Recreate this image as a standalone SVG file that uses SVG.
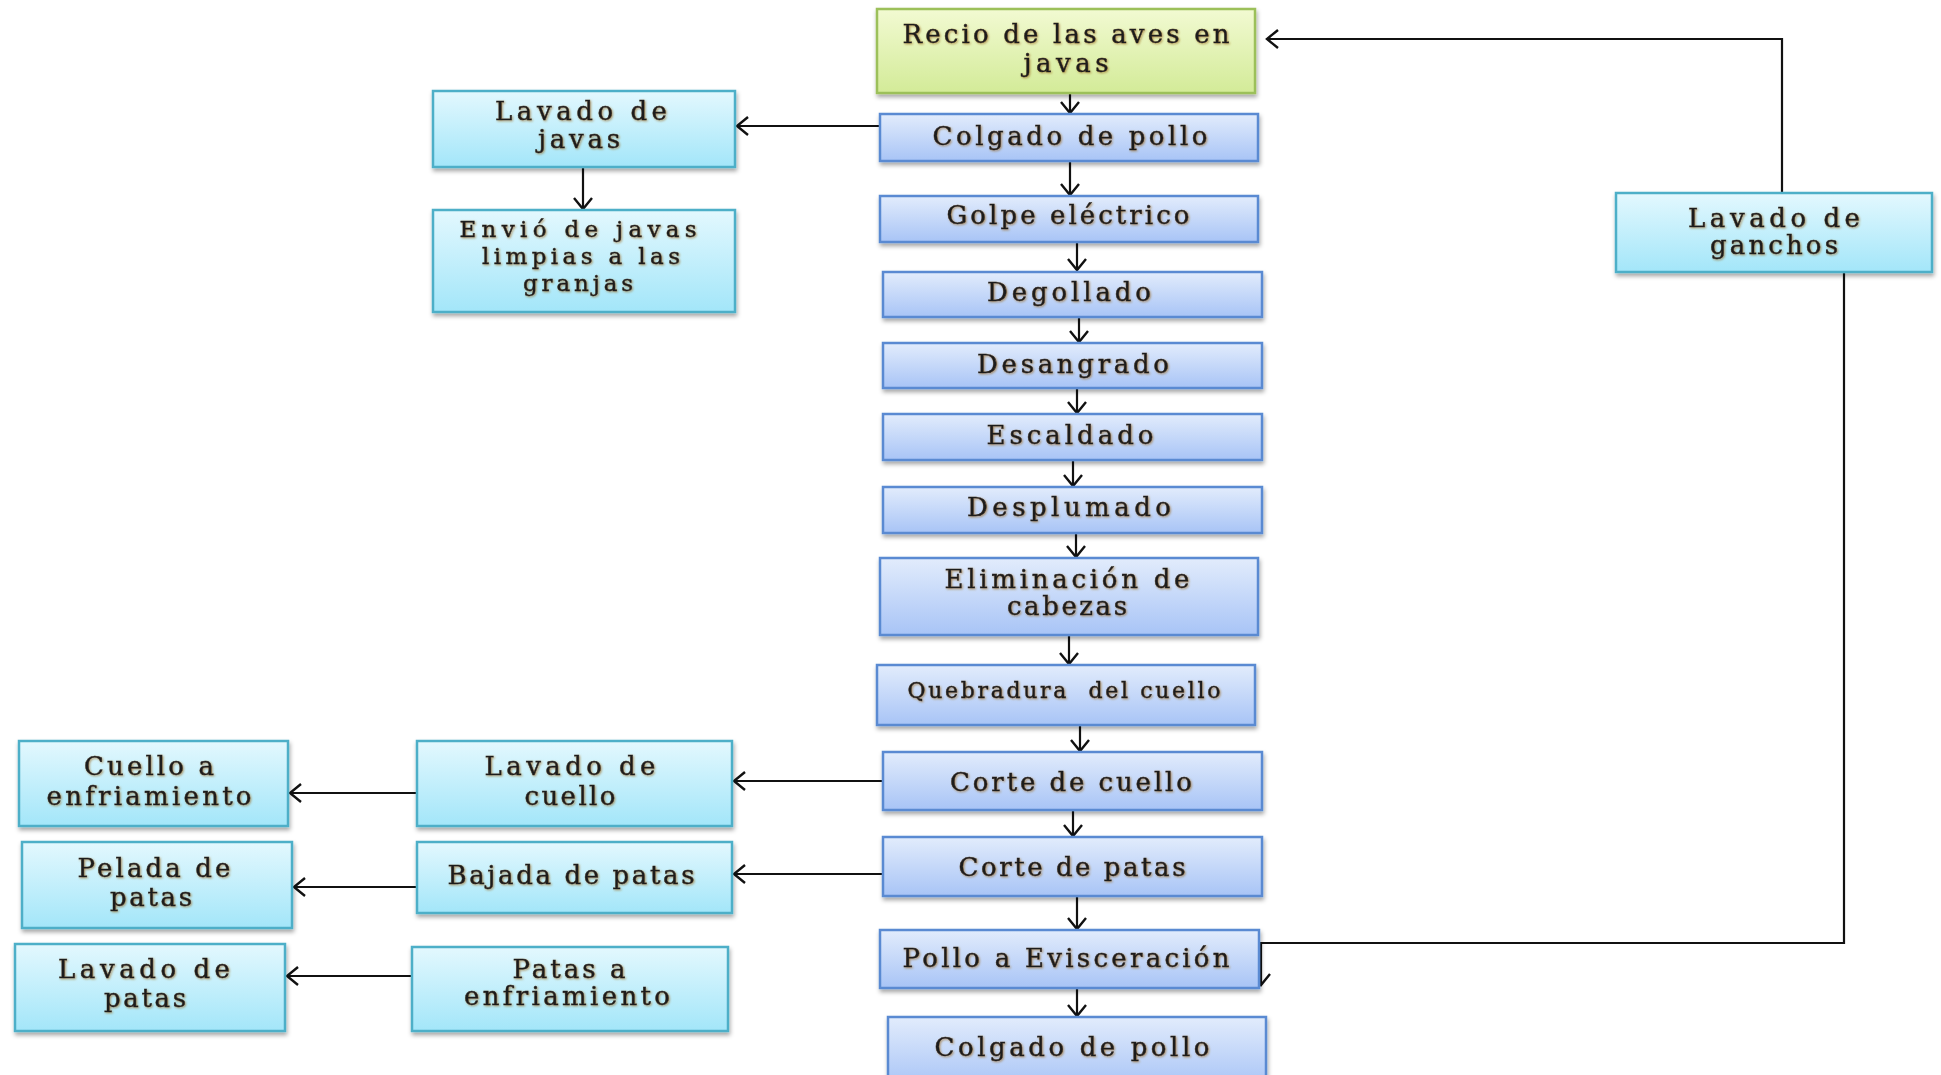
<svg xmlns="http://www.w3.org/2000/svg" width="1941" height="1075" viewBox="0 0 1941 1075">
<defs>
<linearGradient id="gBlue" x1="0" y1="0" x2="0" y2="1"><stop offset="0" stop-color="#e2ecfc"/><stop offset="1" stop-color="#a8c4f6"/></linearGradient>
<linearGradient id="gCyan" x1="0" y1="0" x2="0" y2="1"><stop offset="0" stop-color="#e3f8fe"/><stop offset="1" stop-color="#a3e6f9"/></linearGradient>
<linearGradient id="gGreen" x1="0" y1="0" x2="0" y2="1"><stop offset="0" stop-color="#f2fad2"/><stop offset="1" stop-color="#d3eb98"/></linearGradient>
<filter id="sh" x="-5%" y="-10%" width="110%" height="130%"><feDropShadow dx="1" dy="3" stdDeviation="2" flood-color="#000" flood-opacity="0.35"/></filter>
<filter id="tsh" x="-5%" y="-20%" width="110%" height="140%"><feDropShadow dx="1" dy="1" stdDeviation="0.8" flood-color="#9a6a20" flood-opacity="0.7"/></filter>
<marker id="ah" markerWidth="16" markerHeight="22" refX="12" refY="11" orient="auto" markerUnits="userSpaceOnUse"><path d="M1,2 L12,11 L1,20" fill="none" stroke="#111" stroke-width="2.4"/></marker>
</defs>
<style>
.b{fill:url(#gBlue);stroke:#5a8ad2;stroke-width:2.5;filter:url(#sh)}
.c{fill:url(#gCyan);stroke:#4eafc8;stroke-width:2.5;filter:url(#sh)}
.g{fill:url(#gGreen);stroke:#9cc05a;stroke-width:2.5;filter:url(#sh)}
text{font-family:"DejaVu Serif","Liberation Serif",serif;font-size:26px;fill:#1d1d1d;stroke:#1d1d1d;stroke-width:0.45;text-anchor:middle;filter:url(#tsh)}
.s{font-size:22px}
.m{font-size:23px}
.ln{fill:none;stroke:#111;stroke-width:2.2;marker-end:url(#ah)}
</style>
<rect width="1941" height="1075" fill="#fff"/>

<g id="connectors">
<path class="ln" d="M1070,93 V113"/>
<path class="ln" d="M1070,161 V195"/>
<path class="ln" d="M1077,242 V270"/>
<path class="ln" d="M1079,318 V342"/>
<path class="ln" d="M1077,389 V413"/>
<path class="ln" d="M1073,460 V486"/>
<path class="ln" d="M1076,533 V557"/>
<path class="ln" d="M1069,635 V664"/>
<path class="ln" d="M1080,725 V751"/>
<path class="ln" d="M1073,810 V836"/>
<path class="ln" d="M1077,896 V929"/>
<path class="ln" d="M1077,988 V1016"/>
<path class="ln" d="M880,126 H737"/>
<path class="ln" d="M583,167 V209"/>
<path class="ln" d="M884,781 H734"/>
<path class="ln" d="M417,793 H290"/>
<path class="ln" d="M884,874 H734"/>
<path class="ln" d="M417,887 H294"/>
<path class="ln" d="M412,976 H287"/>
<path class="ln" d="M1782,193 V39 H1267"/>
<path class="ln" d="M1844,272 V943 H1261 V985"/>
</g>

<g id="n_recio"><rect class="g" x="877" y="9" width="378" height="84"/><text x="1066" y="43" textLength="327" lengthAdjust="spacing">Recio de las aves en</text><text x="1066" y="72" textLength="85" lengthAdjust="spacing">javas</text></g>
<g id="n_colgado1"><rect class="b" x="880" y="114" width="378" height="47"/><text x="1070" y="145" textLength="275" lengthAdjust="spacing">Colgado de pollo</text></g>
<g id="n_golpe"><rect class="b" x="880" y="196" width="378" height="46"/><text x="1068" y="224" textLength="243" lengthAdjust="spacing">Golpe eléctrico</text></g>
<g id="n_degollado"><rect class="b" x="883" y="272" width="379" height="45"/><text x="1069" y="301" textLength="164" lengthAdjust="spacing">Degollado</text></g>
<g id="n_desangrado"><rect class="b" x="883" y="343" width="379" height="45"/><text x="1073" y="373" textLength="192" lengthAdjust="spacing">Desangrado</text></g>
<g id="n_escaldado"><rect class="b" x="883" y="414" width="379" height="46"/><text x="1070" y="444" textLength="167" lengthAdjust="spacing">Escaldado</text></g>
<g id="n_desplumado"><rect class="b" x="883" y="487" width="379" height="46"/><text x="1069" y="516" textLength="204" lengthAdjust="spacing">Desplumado</text></g>
<g id="n_eliminacion"><rect class="b" x="880" y="558" width="378" height="77"/><text x="1067" y="588" textLength="245" lengthAdjust="spacing">Eliminación de</text><text x="1067" y="615" textLength="120" lengthAdjust="spacing">cabezas</text></g>
<g id="n_quebradura"><rect class="b" x="877" y="665" width="378" height="60"/><text class="s" x="1064" y="698" textLength="313" lengthAdjust="spacing" xml:space="preserve">Quebradura  del cuello</text></g>
<g id="n_cortecuello"><rect class="b" x="883" y="752" width="379" height="58"/><text x="1071" y="791" textLength="242" lengthAdjust="spacing">Corte de cuello</text></g>
<g id="n_cortepatas"><rect class="b" x="883" y="837" width="379" height="59"/><text x="1072" y="876" textLength="227" lengthAdjust="spacing">Corte de patas</text></g>
<g id="n_evisceracion"><rect class="b" x="880" y="930" width="379" height="58"/><text x="1066" y="967" textLength="327" lengthAdjust="spacing">Pollo a Evisceración</text></g>
<g id="n_colgado2"><rect class="b" x="888" y="1017" width="378" height="70"/><text x="1072" y="1056" textLength="275" lengthAdjust="spacing">Colgado de pollo</text></g>

<g id="n_lavjavas"><rect class="c" x="433" y="91" width="302" height="76"/><text x="581" y="120" textLength="172" lengthAdjust="spacing">Lavado de</text><text x="579" y="148" textLength="82" lengthAdjust="spacing">javas</text></g>
<g id="n_envio"><rect class="c" x="433" y="210" width="302" height="102"/><text class="m" x="578" y="237" textLength="237" lengthAdjust="spacing">Envió de javas</text><text class="m" x="581" y="264" textLength="198" lengthAdjust="spacing">limpias a las</text><text class="m" x="578" y="291" textLength="110" lengthAdjust="spacing">granjas</text></g>
<g id="n_ganchos"><rect class="c" x="1616" y="193" width="316" height="79"/><text x="1774" y="227" textLength="172" lengthAdjust="spacing">Lavado de</text><text x="1774" y="254" textLength="128" lengthAdjust="spacing">ganchos</text></g>

<g id="n_lavcuello"><rect class="c" x="417" y="741" width="315" height="85"/><text x="570" y="775" textLength="171" lengthAdjust="spacing">Lavado de</text><text x="570" y="805" textLength="91" lengthAdjust="spacing">cuello</text></g>
<g id="n_cuelloenf"><rect class="c" x="19" y="741" width="269" height="85"/><text x="149" y="775" textLength="130" lengthAdjust="spacing">Cuello a</text><text x="149" y="805" textLength="205" lengthAdjust="spacing">enfriamiento</text></g>
<g id="n_bajada"><rect class="c" x="417" y="842" width="315" height="71"/><text x="571" y="884" textLength="247" lengthAdjust="spacing">Bajada de patas</text></g>
<g id="n_pelada"><rect class="c" x="22" y="842" width="270" height="86"/><text x="154" y="877" textLength="153" lengthAdjust="spacing">Pelada de</text><text x="151" y="906" textLength="82" lengthAdjust="spacing">patas</text></g>
<g id="n_patasenf"><rect class="c" x="412" y="947" width="316" height="84"/><text x="569" y="978" textLength="113" lengthAdjust="spacing">Patas a</text><text x="567" y="1005" textLength="206" lengthAdjust="spacing">enfriamiento</text></g>
<g id="n_lavpatas"><rect class="c" x="15" y="944" width="270" height="87"/><text x="144" y="978" textLength="172" lengthAdjust="spacing">Lavado de</text><text x="145" y="1007" textLength="82" lengthAdjust="spacing">patas</text></g>
</svg>
